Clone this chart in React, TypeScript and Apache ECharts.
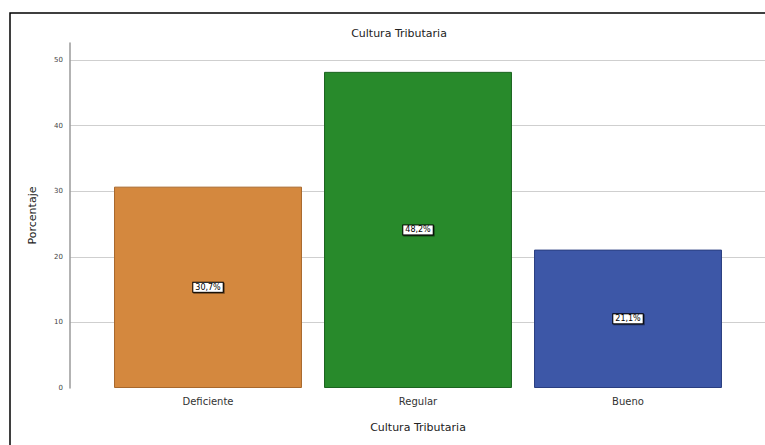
import React, { useEffect, useRef } from "react";
import * as echarts from "echarts";

const chartTitle = "Cultura Tributaria";
const xAxisName = "Cultura Tributaria";
const yAxisName = "Porcentaje";
const categories = ["Deficiente", "Regular", "Bueno"];
const percentages = [30.7, 48.2, 21.1];
const barColors = ["#D4883E", "#288A2B", "#3D57A7"];
const barBorders = ["#A8682C", "#1C6420", "#2A3E80"];
const yMin = 0;
const yMax = 52.6;
const yInterval = 10;

const FONT = "DejaVu Sans";

export default function App() {
  const ref = useRef<HTMLDivElement>(null);
  useEffect(() => {
    document.body.style.margin = "0";
    if (!ref.current) return;
    const chart = echarts.init(ref.current, null, { renderer: "svg" });
    const fmt = (v: number) => v.toFixed(1).replace(".", ",") + "%";
    chart.setOption({
      animation: false,
      backgroundColor: "#ffffff",
      textStyle: { fontFamily: FONT },
      title: {
        text: chartTitle,
        left: 394,
        top: 23,
        textAlign: "center",
        textStyle: { fontFamily: FONT, fontSize: 11, fontWeight: "normal", color: "#222" },
      },
      graphic: [
        {
          type: "rect",
          shape: { x: 10, y: 13, width: 900, height: 600 },
          style: { fill: "none", stroke: "#000", lineWidth: 1.5 },
          silent: true,
        },
      ],
      grid: [
        { left: 70, right: 0, top: 43, bottom: 57 },
        { left: 103, right: 32, top: 43, bottom: 57 },
      ],
      xAxis: [
        { type: "value", gridIndex: 0, show: false, min: 0, max: 1 },
        {
          type: "category",
          gridIndex: 1,
          data: categories,
          axisLine: { show: false },
          axisTick: { show: false },
          axisLabel: { fontFamily: FONT, fontSize: 10, color: "#333", margin: 8 },
          name: xAxisName,
          nameLocation: "middle",
          nameGap: 34,
          nameTextStyle: { fontFamily: FONT, fontSize: 11, color: "#222" },
        },
      ],
      yAxis: [
        {
          type: "value",
          gridIndex: 0,
          min: yMin,
          max: yMax,
          interval: yInterval,
          axisLine: { show: true, lineStyle: { color: "#9a9a9a", width: 1.5 } },
          axisTick: { show: false },
          axisLabel: {
            fontFamily: FONT,
            fontSize: 7,
            color: "#444",
            margin: 7,
            showMaxLabel: false,
          },
          splitLine: {
            show: true,
            showMinLine: false,
            showMaxLine: false,
            lineStyle: { color: "#cfcfcf", width: 1 },
          },
          name: yAxisName,
          nameLocation: "middle",
          nameGap: 32,
          nameTextStyle: { fontFamily: FONT, fontSize: 11, color: "#222" },
        },
        { type: "value", gridIndex: 1, min: yMin, max: yMax, interval: yInterval, show: false },
      ],
      series: [
        {
          type: "bar",
          xAxisIndex: 1,
          yAxisIndex: 1,
          barCategoryGap: "10.5%",
          data: percentages.map((v, i) => ({
            value: v,
            itemStyle: { color: barColors[i], borderColor: barBorders[i], borderWidth: 1 },
          })),
          label: {
            show: true,
            position: "inside",
            formatter: (p: any) => fmt(p.value),
            fontFamily: FONT,
            fontSize: 8,
            color: "#000",
            backgroundColor: "#fff",
            borderColor: "#000",
            borderWidth: 1,
            padding: [1, 2, 0, 2],
            shadowColor: "rgba(0,0,0,0.5)",
            shadowOffsetX: 1,
            shadowOffsetY: 1,
            shadowBlur: 1,
          },
        },
      ],
    });
    return () => chart.dispose();
  }, []);
  return <div ref={ref} style={{ width: 765, height: 445 }} />;
}
